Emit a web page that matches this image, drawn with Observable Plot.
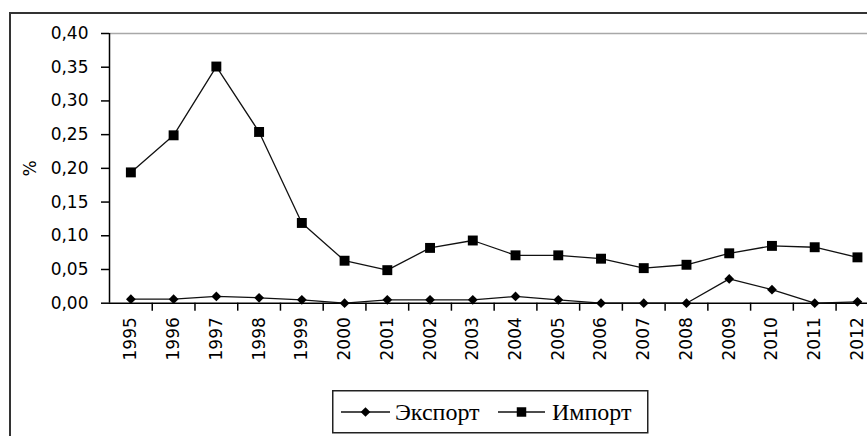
<!DOCTYPE html>
<html><head><meta charset="utf-8">
<script src="https://cdn.jsdelivr.net/npm/d3@7"></script>
<script src="https://cdn.jsdelivr.net/npm/@observablehq/plot@0.6"></script>
<style>
html,body{margin:0;padding:0;background:#fff;overflow:hidden;}
#wrap{position:relative;width:867px;height:436px;overflow:hidden;background:#fff;}
#frame{position:absolute;left:9px;top:12px;width:900px;height:500px;border-left:2px solid #333;border-top:2px solid #333;}
#chart{position:absolute;left:0;top:0;}
#legend{position:absolute;left:332px;top:390px;}
</style></head><body>
<div id="wrap"><div id="frame"></div><div id="chart"></div><div id="legend"></div></div>
<script>
const years = [1995,1996,1997,1998,1999,2000,2001,2002,2003,2004,2005,2006,2007,2008,2009,2010,2011,2012];
const exportValues = [0.006,0.006,0.010,0.008,0.005,0.000,0.005,0.005,0.005,0.010,0.005,0.000,0.000,0.000,0.036,0.020,0.000,0.002];
const importValues = [0.194,0.249,0.351,0.254,0.119,0.063,0.049,0.082,0.093,0.071,0.071,0.066,0.052,0.057,0.074,0.085,0.083,0.068];
const yTicks = [0,0.05,0.10,0.15,0.20,0.25,0.30,0.35,0.40];
const seriesNames = ["Экспорт","Импорт"];
const yLabel = "%";

const exportData = years.map((yr,i)=>({year:yr, value:exportValues[i], series:seriesNames[0]}));
const importData = years.map((yr,i)=>({year:yr, value:importValues[i], series:seriesNames[1]}));

const bw = 42.74;
const plot = Plot.plot({
  width: 867, height: 436,
  marginLeft: 109, marginTop: 33, marginBottom: 133.3, marginRight: 0,
  style: {fontFamily: "DejaVu Sans, sans-serif", fontSize: "17px", color: "#000", background: "transparent"},
  x: {type: "linear", domain: [1994.5, 2012.5], range: [109, 109 + 18*bw]},
  y: {domain: [0, 0.4], range: [302.7, 33]},
  marks: [
    Plot.ruleY([0.4], {stroke: "#a8a8a8", strokeWidth: 1.5}),
    Plot.axisY({ticks: yTicks, tickFormat: d => d.toFixed(2).replace(".", ","), tickSize: 8, tickPadding: 13,
      label: yLabel, labelAnchor: "center", labelOffset: 86, labelArrow: "none", strokeWidth: 1.5}),
    Plot.axisX({ticks: years.map(y => y + 0.5), tickSize: 8, tickFormat: () => "", label: null, strokeWidth: 1.5}),
    Plot.axisX({ticks: years, tickSize: 0, tickRotate: -90, tickPadding: 14, tickFormat: d => String(d), label: null}),
    Plot.ruleX([1994.5], {stroke: "#000", strokeWidth: 1.5}),
    Plot.ruleY([0], {stroke: "#000", strokeWidth: 1.5}),
    Plot.line(exportData, {x: "year", y: "value", stroke: "#111", strokeWidth: 1.3}),
    Plot.line(importData, {x: "year", y: "value", stroke: "#111", strokeWidth: 1.3}),
    Plot.dot(exportData, {x: "year", y: "value", symbol: "diamond2", r: 4.4, fill: "#000", stroke: "none"}),
    Plot.dot(importData, {x: "year", y: "value", symbol: "square", r: 5.6, fill: "#000", stroke: "none"})
  ]
});
document.getElementById("chart").appendChild(plot);

// legend
const lg = d3.select("#legend").append("svg").attr("width", 317).attr("height", 44)
  .style("display", "block");
lg.append("rect").attr("x", 0.75).attr("y", 0.75).attr("width", 315).attr("height", 42)
  .attr("fill", "#fff").attr("stroke", "#222").attr("stroke-width", 1.5);
const items = [
  {name: seriesNames[0], x0: 9, x1: 58, sym: d3.symbolDiamond2, size: 60, tx: 63},
  {name: seriesNames[1], x0: 166, x1: 213, sym: d3.symbolSquare, size: 90, tx: 220}
];
items.forEach(it => {
  lg.append("line").attr("x1", it.x0).attr("x2", it.x1).attr("y1", 22).attr("y2", 22)
    .attr("stroke", "#111").attr("stroke-width", 1.3);
  lg.append("path").attr("d", d3.symbol(it.sym, it.size)())
    .attr("transform", `translate(${(it.x0 + it.x1)/2},22)`).attr("fill", "#000");
  lg.append("text").attr("x", it.tx).attr("y", 22).attr("dy", "0.35em")
    .style("font-family", "'Liberation Serif', serif").style("font-size", "24px").text(it.name);
});
</script>
</body></html>
